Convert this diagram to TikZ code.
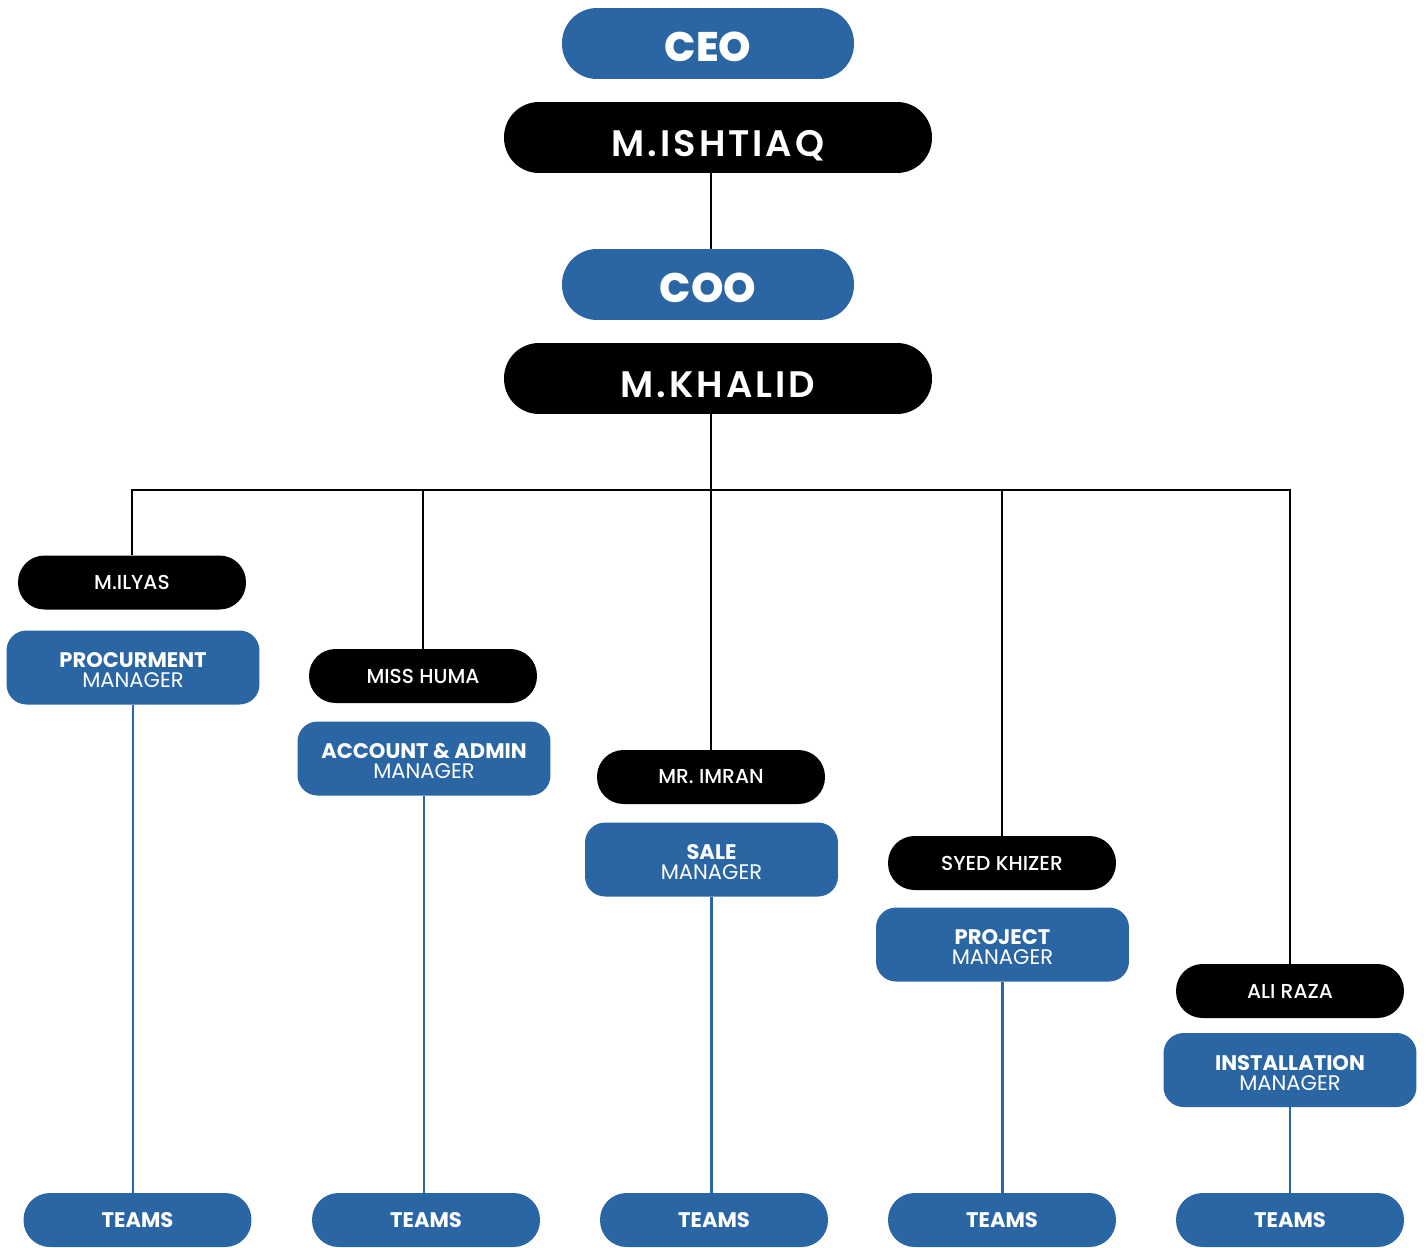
\documentclass[tikz,border=0pt]{standalone}
\usepackage{fontspec}
\setmainfont{Poppins}
\newfontfamily\heavyfont{Poppins ExtraBold}
\newfontfamily\namefont{Poppins SemiBold}[LetterSpace=8]
\newfontfamily\medfont{Poppins Medium}
\definecolor{orgblue}{HTML}{2A65A4}
\tikzset{
  rolebox/.style={fill=orgblue, text=white, rounded corners=0.7cm, minimum width=5.84cm, minimum height=1.42cm, inner sep=0pt, text height=21pt, text depth=0pt, font=\heavyfont\fontsize{23.5}{23.5}\selectfont},
  bigbox/.style={fill=black, text=white, rounded corners=0.7cm, minimum width=8.56cm, minimum height=1.42cm, inner sep=0pt, text height=21.5pt, text depth=0pt, font=\namefont\fontsize{21}{21}\selectfont},
  personbox/.style={fill=black, text=white, rounded corners=0.53cm, minimum width=4.56cm, minimum height=1.08cm, inner sep=0pt, font=\medfont\fontsize{11.5}{12}\selectfont},
  mgrbox/.style={fill=orgblue, text=white, rounded corners=0.4cm, minimum width=5.06cm, minimum height=1.48cm, inner sep=0pt, align=center, text height=23pt, text depth=0pt, font=\fontsize{12}{11.5}\selectfont},
  teambox/.style={fill=orgblue, text=white, rounded corners=0.53cm, minimum width=4.56cm, minimum height=1.08cm, inner sep=0pt, font=\bfseries\fontsize{12}{12}\selectfont},
  orgline/.style={line width=1.4pt},
  blueline/.style={orgblue, line width=1.2pt}
}
\begin{document}
\begin{tikzpicture}[x=0.02cm, y=-0.02cm]
\useasboundingbox (0,0) rectangle (1426,1247);
% top of the chart
\node[rolebox] (ceo) at (708,43.5) {CEO};
\node[bigbox] (ishtiaq) at (718,137.5) {M.ISHTIAQ};
\node[rolebox] (coo) at (708,284.5) {COO};
\node[bigbox] (khalid) at (718,378.5) {M.KHALID};
\coordinate (bus) at (711,490);

% heads of department
\node[personbox] (ilyas) at (132,582.5) {M.ILYAS};
\node[personbox] (huma) at (423,676) {MISS HUMA};
\node[personbox] (imran) at (711,777) {MR. IMRAN};
\node[personbox] (khizer) at (1002,863) {SYED KHIZER};
\node[personbox] (raza) at (1290,991) {ALI RAZA};

\node[mgrbox] (procure) at (133,667.5) {\textbf{PROCURMENT}\\MANAGER};
\node[mgrbox] (account) at (424,758.5) {\textbf{ACCOUNT \& ADMIN}\\MANAGER};
\node[mgrbox] (sale) at (711.5,859.5) {\textbf{SALE}\\MANAGER};
\node[mgrbox] (project) at (1002.5,944.5) {\textbf{PROJECT}\\MANAGER};
\node[mgrbox] (install) at (1290,1070) {\textbf{INSTALLATION}\\MANAGER};

\node[teambox] (teamsa) at (137.5,1220) {TEAMS};
\node[teambox] (teamsb) at (426,1220) {TEAMS};
\node[teambox] (teamsc) at (714,1220) {TEAMS};
\node[teambox] (teamsd) at (1002,1220) {TEAMS};
\node[teambox] (teamse) at (1290,1220) {TEAMS};

% black lines
\draw[orgline] (ishtiaq.south -| bus) -- (coo.north -| bus);
\draw[orgline] (khalid.south -| bus) -- (imran.north);
\draw[orgline] (ilyas.north) |- (raza.north |- bus) -- (raza.north);
\draw[orgline] (huma.north) -- (huma.north |- bus);
\draw[orgline] (khizer.north) -- (khizer.north |- bus);

% blue lines
\draw[blueline] (procure.south) -- (procure.south |- teamsa.north);
\draw[blueline] (account.south) -- (account.south |- teamsb.north);
\draw[blueline] (sale.south) -- (sale.south |- teamsc.north);
\draw[blueline] (project.south) -- (project.south |- teamsd.north);
\draw[blueline] (install.south) -- (install.south |- teamse.north);
\end{tikzpicture}
\end{document}
